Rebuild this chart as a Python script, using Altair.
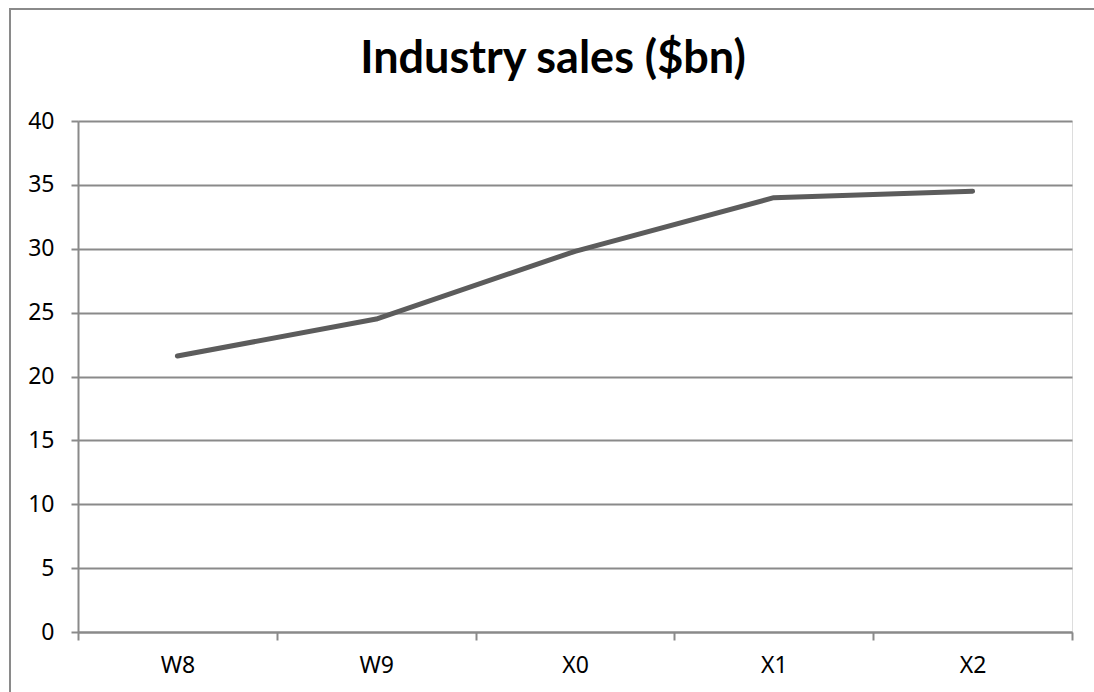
import altair as alt
import pandas as pd

# Industry sales by period, $bn
periods = ["W8", "W9", "X0", "X1", "X2"]
sales = [21.6, 24.5, 29.8, 34.0, 34.5]
y_ticks = [0, 5, 10, 15, 20, 25, 30, 35, 40]

df = pd.DataFrame({"period": periods, "sales": sales})

FONT = "Noto Sans"
GRID = "#8a8a8a"
LINE = "#5c5c5c"

PAD_L, PAD_T = 78, 121
PLOT_W, PLOT_H = 994, 511
TOTAL_W, TOTAL_H = 1094, 692

x_enc = alt.X(
    "period:N",
    sort=periods,
    scale=alt.Scale(paddingInner=0, paddingOuter=0),
    axis=alt.Axis(
        title=None,
        labelAngle=0,
        labelFont=FONT,
        labelFontSize=23,
        labelColor="#000000",
        labelPadding=14,
        tickBand="extent",
        tickSize=8,
        tickColor=GRID,
        tickWidth=2,
        domainColor=GRID,
        domainWidth=2,
        grid=False,
    ),
)

y_enc = alt.Y(
    "sales:Q",
    scale=alt.Scale(domain=[0, 40], nice=False, zero=True),
    axis=alt.Axis(
        title=None,
        values=y_ticks,
        labelFont=FONT,
        labelFontSize=23,
        labelColor="#000000",
        labelPadding=17,
        tickSize=7,
        tickColor=GRID,
        tickWidth=2,
        domainColor=GRID,
        domainWidth=2,
        gridColor=GRID,
        gridWidth=2,
    ),
)

line = (
    alt.Chart(df)
    .mark_line(color=LINE, strokeWidth=5, strokeCap="round", strokeJoin="round")
    .encode(x=x_enc, y=y_enc)
)

# Outer frame: top and left edges of the chart box
frame_df = pd.DataFrame({"k": [0]})
frame_top = (
    alt.Chart(frame_df)
    .mark_rule(color=GRID, strokeWidth=2, clip=False)
    .encode(
        x=alt.value(9 - PAD_L),
        x2=alt.value(TOTAL_W - PAD_L),
        y=alt.value(9 - PAD_T),
    )
)
frame_left = (
    alt.Chart(frame_df)
    .mark_rule(color=GRID, strokeWidth=2, clip=False)
    .encode(
        x=alt.value(10 - PAD_L),
        y=alt.value(9 - PAD_T),
        y2=alt.value(TOTAL_H - PAD_T),
    )
)

chart = (
    alt.layer(line, frame_top, frame_left)
    .properties(
        width=PLOT_W,
        height=PLOT_H,
        autosize=alt.AutoSizeParams(type="none"),
        padding={"left": PAD_L, "top": PAD_T, "right": TOTAL_W - PAD_L - PLOT_W, "bottom": TOTAL_H - PAD_T - PLOT_H},
        title=alt.TitleParams(
            "Industry sales ($bn)",
            font="Lato",
            fontSize=45,
            fontWeight="bold",
            color="#000000",
            anchor="middle",
            dx=-22,
            offset=-74,
        ),
    )
    .configure_view(stroke=None)
    .configure(background="#ffffff")
)

chart.save("out.html", embed_options={"renderer": "svg", "actions": False})
